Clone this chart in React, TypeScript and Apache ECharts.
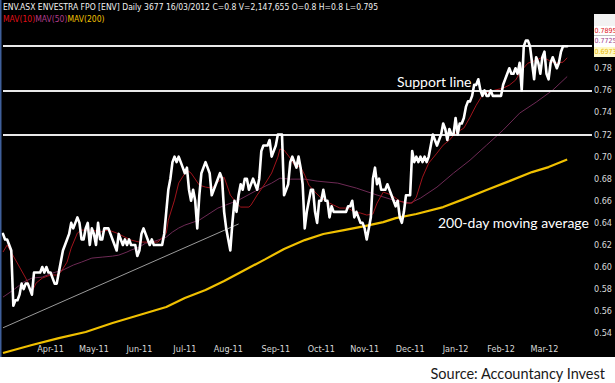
import React, { useEffect, useRef } from 'react';
import * as echarts from 'echarts';

// ---- data -------------------------------------------------------------
const START_DATE = '2011-03-01';
const AXIS_SLOTS = 286; // trading-day slots on the x axis (data ends 16/03/2012)

const monthLabels = ['Apr-11', 'May-11', 'Jun-11', 'Jul-11', 'Aug-11', 'Sep-11', 'Oct-11', 'Nov-11', 'Dec-11', 'Jan-12', 'Feb-12', 'Mar-12'];
const hiddenPriceLabels = [0.52, 0.8, 0.84];

// daily closes from 01/03/2011 to 16/03/2012
const closes = [
  0.63, 0.625, 0.625, 0.62, 0.615, 0.565, 0.57, 0.57, 0.575, 0.585,
  0.58, 0.585, 0.585, 0.58, 0.575, 0.595, 0.595, 0.595, 0.595, 0.6,
  0.595, 0.6, 0.595, 0.595, 0.59, 0.585, 0.585, 0.595, 0.605, 0.615,
  0.62, 0.625, 0.63, 0.64, 0.635, 0.64, 0.645, 0.64, 0.625, 0.625,
  0.635, 0.64, 0.62, 0.635, 0.63, 0.62, 0.64, 0.625, 0.625, 0.635,
  0.635, 0.635, 0.63, 0.625, 0.62, 0.615, 0.63, 0.625, 0.62, 0.625,
  0.62, 0.625, 0.62, 0.62, 0.62, 0.61, 0.615, 0.63, 0.635, 0.63,
  0.625, 0.62, 0.625, 0.62, 0.62, 0.62, 0.62, 0.62, 0.63, 0.65,
  0.67, 0.68, 0.695, 0.7, 0.695, 0.7, 0.695, 0.69, 0.685, 0.69,
  0.67, 0.66, 0.67, 0.66, 0.635, 0.665, 0.685, 0.69, 0.695, 0.69,
  0.685, 0.665, 0.67, 0.675, 0.68, 0.685, 0.68, 0.65, 0.635, 0.625,
  0.615, 0.64, 0.66, 0.65, 0.665, 0.675, 0.67, 0.68, 0.68, 0.67,
  0.675, 0.68, 0.675, 0.67, 0.68, 0.705, 0.71, 0.71, 0.71, 0.715,
  0.7, 0.705, 0.71, 0.72, 0.72, 0.72, 0.665, 0.67, 0.675, 0.695,
  0.7, 0.695, 0.69, 0.7, 0.69, 0.675, 0.635, 0.65, 0.66, 0.67,
  0.67, 0.65, 0.64, 0.66, 0.66, 0.67, 0.66, 0.66, 0.645, 0.655,
  0.65, 0.65, 0.65, 0.65, 0.65, 0.65, 0.65, 0.655, 0.655, 0.66,
  0.645, 0.65, 0.645, 0.64, 0.64, 0.635, 0.625, 0.635, 0.645, 0.68,
  0.69, 0.675, 0.68, 0.67, 0.67, 0.67, 0.675, 0.67, 0.665, 0.66,
  0.655, 0.66, 0.645, 0.64, 0.65, 0.665, 0.665, 0.665, 0.705, 0.695,
  0.7, 0.695, 0.7, 0.695, 0.7, 0.695, 0.7, 0.71, 0.72, 0.715,
  0.71, 0.715, 0.72, 0.73, 0.725, 0.715, 0.725, 0.72, 0.72, 0.735,
  0.72, 0.73, 0.73, 0.735, 0.745, 0.75, 0.75, 0.755, 0.765, 0.765,
  0.77, 0.76, 0.755, 0.76, 0.755, 0.755, 0.76, 0.755, 0.755, 0.755,
  0.755, 0.755, 0.765, 0.77, 0.775, 0.78, 0.775, 0.775, 0.78, 0.775,
  0.785, 0.76, 0.8, 0.805, 0.805, 0.8, 0.785, 0.77, 0.79, 0.785,
  0.775, 0.79, 0.795, 0.775, 0.77, 0.785, 0.79, 0.785, 0.78, 0.785,
  0.795, 0.8, 0.8, 0.8,
];

// moving averages (trading-day index, value)
const ma10Days = [0, 2, 8, 11, 14, 16, 19, 23, 26, 28, 31, 33, 36, 38, 43, 47, 51, 55, 60, 62, 66, 75, 79, 80, 83, 85, 89, 91, 95, 98, 101, 104, 107, 110, 113, 115, 119, 120, 123, 127, 130, 133, 134, 136, 139, 141, 144, 146, 148, 151, 154, 157, 160, 163, 167, 170, 173, 176, 179, 181, 184, 188, 192, 195, 198, 200, 203, 206, 210, 213, 216, 219, 223, 226, 229, 232, 235, 238, 242, 245, 248, 251, 254, 258, 261, 264, 267, 271, 273];
const ma10 = [0.6136, 0.6199, 0.6, 0.59, 0.5774, 0.5855, 0.59, 0.5928, 0.5928, 0.5955, 0.6045, 0.6172, 0.6308, 0.6335, 0.6335, 0.6317, 0.6335, 0.6308, 0.6262, 0.6244, 0.6226, 0.6226, 0.6308, 0.6425, 0.6606, 0.676, 0.6878, 0.6851, 0.6742, 0.6724, 0.6715, 0.6769, 0.6814, 0.6652, 0.6579, 0.6543, 0.6543, 0.6561, 0.6652, 0.676, 0.6851, 0.6995, 0.7068, 0.7059, 0.6986, 0.6923, 0.6905, 0.6833, 0.6742, 0.6679, 0.6624, 0.6588, 0.6561, 0.6534, 0.6534, 0.6498, 0.6489, 0.6471, 0.648, 0.6579, 0.6679, 0.6652, 0.6597, 0.6579, 0.6579, 0.6633, 0.6814, 0.6941, 0.7032, 0.7104, 0.7149, 0.7213, 0.7258, 0.7357, 0.7466, 0.7557, 0.7584, 0.7602, 0.762, 0.7647, 0.7692, 0.7783, 0.7846, 0.7873, 0.79, 0.7873, 0.7846, 0.7855, 0.7895];

const ma50Days = [0, 5, 10, 14, 19, 24, 29, 34, 38, 43, 48, 53, 56, 60, 62, 66, 69, 72, 75, 79, 82, 85, 88, 95, 104, 114, 123, 130, 134, 139, 146, 152, 162, 171, 181, 189, 197, 202, 210, 218, 226, 234, 242, 250, 258, 266, 273];
const ma50 = [0.5728, 0.5792, 0.5864, 0.59, 0.5909, 0.5946, 0.5973, 0.6018, 0.6045, 0.6081, 0.609, 0.6099, 0.6108, 0.6136, 0.6154, 0.6181, 0.6217, 0.6226, 0.6244, 0.6271, 0.6317, 0.6353, 0.638, 0.6425, 0.6534, 0.6606, 0.6697, 0.676, 0.6805, 0.6796, 0.6796, 0.6778, 0.676, 0.6715, 0.6652, 0.6606, 0.6579, 0.6624, 0.6724, 0.6851, 0.6968, 0.7104, 0.724, 0.7394, 0.7493, 0.7602, 0.7725];

const ma200Days = [0, 14, 27, 40, 53, 66, 79, 88, 98, 107, 117, 127, 136, 146, 155, 165, 175, 184, 190, 200, 213, 223, 234, 245, 256, 264, 273];
const ma200 = [0.5222, 0.5294, 0.5357, 0.5412, 0.5493, 0.5566, 0.5638, 0.5719, 0.5792, 0.5873, 0.5973, 0.6072, 0.6163, 0.6244, 0.6299, 0.6335, 0.6371, 0.6407, 0.6443, 0.648, 0.6543, 0.6615, 0.6697, 0.6778, 0.686, 0.6905, 0.6973];

// horizontal price levels and the hand-drawn trend line
const levelLines = [0.8, 0.76, 0.72];
const trendDays = [0, 114];
const trendValues = [0.545, 0.639];

// last values shown in the top-right boxes
const lastValues = { ma10: '0.7895', ma50: '0.7725', ma200: '0.6973' };

// ---- helpers ----------------------------------------------------------
const MONTHS = ['Jan', 'Feb', 'Mar', 'Apr', 'May', 'Jun', 'Jul', 'Aug', 'Sep', 'Oct', 'Nov', 'Dec'];
function buildTradingDays(start: string, count: number): string[] {
  const out: string[] = [];
  const d = new Date(start + 'T00:00:00Z');
  while (out.length < count) {
    const wd = d.getUTCDay();
    if (wd !== 0 && wd !== 6) out.push(d.toISOString().slice(0, 10));
    d.setUTCDate(d.getUTCDate() + 1);
  }
  return out;
}
const monthName = (s: string) => {
  const [y, m] = s.split('-');
  return MONTHS[Number(m) - 1] + '-' + y.slice(2);
};

const NARROW = '"Liberation Sans Narrow", "Arial Narrow", "DejaVu Sans Condensed", sans-serif';
const HUMAN = 'Lato, "Open Sans", sans-serif';

export default function App() {
  const ref = useRef<HTMLDivElement>(null);
  useEffect(() => {
    if (!ref.current) return;
    const chart = echarts.init(ref.current, undefined, { renderer: 'svg' });
    const dates = buildTradingDays(START_DATE, AXIS_SLOTS);
    const isMonthStart = (i: number) =>
      i > 0 && dates[i].slice(0, 7) !== dates[i - 1].slice(0, 7);

    const pairs = (days: number[], vals: number[]) => days.map((d, i) => [d, vals[i]]);

    chart.setOption({
      animation: false,
      backgroundColor: '#000',
      grid: { left: 3, right: 17, top: 2, bottom: 27.6, containLabel: false },
      xAxis: {
        type: 'category',
        data: dates,
        boundaryGap: false,
        axisLine: { show: false },
        axisTick: { show: false },
        splitLine: { show: false },
        axisLabel: {
          inside: true,
          margin: 2,
          color: '#d8d8d8',
          fontSize: 9,
          fontFamily: NARROW,
          interval: (i: number, v: string) => isMonthStart(i) && monthLabels.includes(monthName(v)),
          formatter: (v: string) => monthName(v),
        },
      },
      yAxis: {
        type: 'value',
        position: 'right',
        min: 0.52,
        max: 0.84,
        interval: 0.02,
        axisLine: { show: false },
        axisTick: { show: false },
        splitLine: { show: false },
        axisLabel: {
          margin: 2,
          color: '#d8d8d8',
          fontSize: 9,
          fontFamily: NARROW,
          formatter: (v: number) =>
            hiddenPriceLabels.some((h) => Math.abs(h - v) < 1e-6) ? '' : v.toFixed(2),
        },
      },
      series: [
        {
          name: 'MAV(200)',
          type: 'line',
          data: pairs(ma200Days, ma200),
          showSymbol: false,
          smooth: false,
          lineStyle: { color: '#f0c000', width: 2.2 },
          z: 2,
        },
        {
          name: 'MAV(50)',
          type: 'line',
          data: pairs(ma50Days, ma50),
          showSymbol: false,
          lineStyle: { color: '#6e2a55', width: 1 },
          z: 3,
        },
        {
          name: 'MAV(10)',
          type: 'line',
          data: pairs(ma10Days, ma10),
          showSymbol: false,
          lineStyle: { color: '#a0141c', width: 1 },
          z: 4,
        },
        {
          name: 'ENV',
          type: 'line',
          data: closes,
          showSymbol: false,
          lineStyle: { color: '#ffffff', width: 2.6, join: 'round', cap: 'round' },
          z: 6,
          markLine: {
            silent: true,
            symbol: 'none',
            label: { show: false },
            data: [
              ...levelLines.map((v) => ({ yAxis: v, lineStyle: { color: '#e8e8e8', width: 2, type: 'solid' } })),
              [
                { coord: [trendDays[0], trendValues[0]], lineStyle: { color: '#9a9a9a', width: 1, type: 'solid' } },
                { coord: [trendDays[1], trendValues[1]] },
              ],
            ],
          },
        },
      ],
      graphic: [
        { type: 'rect', shape: { x: 0, y: 357, width: 615, height: 26 }, style: { fill: '#ffffff' }, z: 10 },
        { type: 'rect', shape: { x: 0, y: 0, width: 1.5, height: 357 }, style: { fill: '#3f5f9a' }, z: 10 },
        {
          type: 'text', x: 3, y: 2, z: 10,
          style: {
            text: 'ENV.ASX ENVESTRA FPO [ENV] Daily 3677 16/03/2012 C=0.8 V=2,147,655 O=0.8 H=0.8 L=0.795',
            fill: '#f0f0f0', font: '8.5px ' + NARROW,
          },
        },
        {
          type: 'text', x: 3, y: 14, z: 10,
          style: {
            text: '{a|MAV(10)}{b|MAV(50)}{c|MAV(200)}',
            font: '8.5px ' + NARROW,
            rich: {
              a: { fill: '#e01018', font: '8.5px ' + NARROW },
              b: { fill: '#b03c8c', font: '8.5px ' + NARROW },
              c: { fill: '#f0c000', font: '8.5px ' + NARROW },
            },
          },
        },
        { type: 'rect', shape: { x: 594, y: 14, width: 21, height: 12 }, style: { fill: '#f2f2f2' }, z: 12 },
        { type: 'rect', shape: { x: 594, y: 26, width: 21, height: 9.5 }, style: { fill: '#ffffff' }, z: 12 },
        { type: 'text', x: 594.5, y: 27, z: 13, style: { text: lastValues.ma10, fill: '#e01018', font: '7px ' + NARROW } },
        { type: 'rect', shape: { x: 594, y: 35.5, width: 21, height: 11.5 }, style: { fill: '#ffffff' }, z: 12 },
        { type: 'text', x: 594.5, y: 37.5, z: 13, style: { text: lastValues.ma50, fill: '#9c3a8a', font: '7px ' + NARROW } },
        { type: 'rect', shape: { x: 594, y: 47, width: 21, height: 10 }, style: { fill: '#fff9c8' }, z: 12 },
        { type: 'text', x: 594.5, y: 48.5, z: 13, style: { text: lastValues.ma200, fill: '#e8b800', font: '7px ' + NARROW } },
        {
          type: 'text', x: 397, y: 81, z: 10,
          style: { text: 'Support line', fill: '#ffffff', font: '14px ' + HUMAN, verticalAlign: 'middle' },
        },
        {
          type: 'text', x: 438, y: 222, z: 10,
          style: { text: '200-day moving average', fill: '#ffffff', font: '14px ' + HUMAN, verticalAlign: 'middle' },
        },
        {
          type: 'text', x: 605, y: 373, z: 11,
          style: { text: 'Source: Accountancy Invest', fill: '#1a1a1a', font: '14.5px ' + HUMAN, align: 'right', verticalAlign: 'middle' },
        },
      ],
    });
    return () => chart.dispose();
  }, []);
  return <div ref={ref} style={{ position: 'absolute', left: 0, top: 0, width: 615, height: 383 }} />;
}
